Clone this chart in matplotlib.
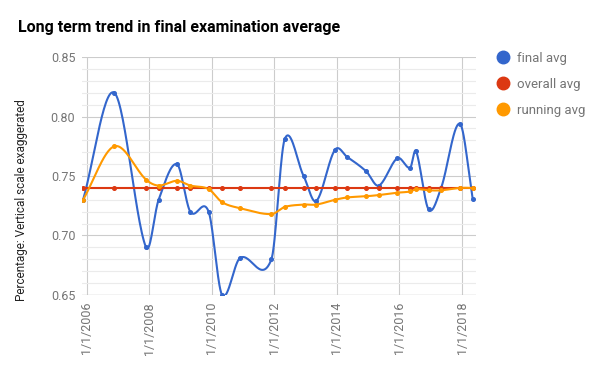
# -*- coding: utf-8 -*-
import numpy as np
import pandas as pd
import matplotlib
matplotlib.use("Agg")
import matplotlib.pyplot as plt
import matplotlib.dates as mdates
from matplotlib.lines import Line2D

plt.rcParams['font.family'] = ['Roboto', 'DejaVu Sans']

# exam sessions
dates = ['2005-11-20', '2006-11-20', '2007-11-25', '2008-04-20', '2008-11-20',
         '2009-04-25', '2009-11-25', '2010-05-01', '2010-11-25', '2011-11-28',
         '2012-05-01', '2012-12-08', '2013-05-05', '2013-12-08', '2014-05-01',
         '2014-12-08', '2015-05-05', '2015-12-08', '2016-05-05', '2016-07-12',
         '2016-12-05', '2017-05-01', '2017-12-05', '2018-05-05']
final_avg = [0.730, 0.820, 0.690, 0.730, 0.760, 0.720, 0.720, 0.650, 0.681, 0.680,
             0.781, 0.750, 0.729, 0.772, 0.766, 0.754, 0.742, 0.765, 0.757, 0.771,
             0.722, 0.740, 0.794, 0.731]
overall_avg = [0.740] * len(dates)
running_avg = [0.730, 0.775, 0.747, 0.742, 0.746, 0.742, 0.739, 0.728, 0.723, 0.718,
               0.724, 0.726, 0.726, 0.730, 0.732, 0.733, 0.734, 0.736, 0.737, 0.739,
               0.738, 0.738, 0.740, 0.740]
series_names = ['final avg', 'overall avg', 'running avg']
colors = ['#3366cc', '#dc3912', '#ff9900']
tick_years = [2006, 2008, 2010, 2012, 2014, 2016, 2018]
tick_labels = ['1/1/%d' % y for y in tick_years]

x = mdates.date2num(pd.to_datetime(dates).to_pydatetime())


def smooth(xs, ys, n=30):
    # cubic hermite with catmull-rom tangents, like google's curveType 'function'
    xs = np.asarray(xs, float)
    ys = np.asarray(ys, float)
    m = np.zeros_like(ys)
    m[1:-1] = (ys[2:] - ys[:-2]) / (xs[2:] - xs[:-2])
    m[0] = (ys[1] - ys[0]) / (xs[1] - xs[0])
    m[-1] = (ys[-1] - ys[-2]) / (xs[-1] - xs[-2])
    outx, outy = [], []
    for i in range(len(xs) - 1):
        h = xs[i + 1] - xs[i]
        t = np.linspace(0, 1, n, endpoint=False)
        h00 = 2 * t**3 - 3 * t**2 + 1
        h10 = t**3 - 2 * t**2 + t
        h01 = -2 * t**3 + 3 * t**2
        h11 = t**3 - t**2
        outx.append(xs[i] + t * h)
        outy.append(h00 * ys[i] + h10 * h * m[i] + h01 * ys[i + 1] + h11 * h * m[i + 1])
    outx.append([xs[-1]])
    outy.append([ys[-1]])
    return np.concatenate(outx), np.concatenate(outy)


fig = plt.figure(figsize=(6, 3.71), dpi=100)
ax = fig.add_axes([0.137, 0.205, 0.656, 0.641])

for vals, c in zip([final_avg, overall_avg, running_avg], colors):
    sx, sy = smooth(x, vals)
    ax.plot(sx, sy, color=c, lw=1.5, solid_capstyle='round', zorder=3)
    ax.plot(x, vals, 'o', color=c, ms=2.6, zorder=4)

ax.set_ylim(0.65, 0.85)
ax.set_xlim(mdates.date2num(pd.Timestamp('2005-11-10')), mdates.date2num(pd.Timestamp('2018-06-10')))
ax.set_yticks(np.arange(0.65, 0.851, 0.05))
ax.set_yticks(np.arange(0.65, 0.851, 0.01), minor=True)
ax.set_yticklabels(['%.2f' % v for v in np.arange(0.65, 0.851, 0.05)])
ax.set_xticks(mdates.date2num(pd.to_datetime(['%d-01-01' % y for y in tick_years]).to_pydatetime()))
ax.set_xticklabels(tick_labels, rotation=90)

ax.grid(which='major', color='#cccccc', lw=0.8)
ax.grid(which='minor', axis='y', color='#ebebeb', lw=0.8)
ax.set_axisbelow(True)
for s in ax.spines.values():
    s.set_visible(False)
ax.axhline(0.65, color='#bbbbbb', lw=0.9, zorder=1)
ax.tick_params(which='both', length=0, labelsize=9, labelcolor='#757575', pad=5)

ax.set_ylabel('Percentage: Vertical scale exaggerated', fontsize=8.5, color='#222222')
ax.yaxis.set_label_coords(-0.137, 0.40)
fig.text(0.03, 0.925, 'Long term trend in final examination average', fontsize=11.5,
         fontweight='bold', color='#000000', va='center')

handles = [Line2D([], [], marker='o', ls='none', color=c, ms=9) for c in colors]
leg = fig.legend(handles, series_names, loc='upper left', bbox_to_anchor=(0.817, 0.875),
                 frameon=False, fontsize=9.5, labelspacing=1.0, handletextpad=0.4,
                 handlelength=1.2, borderaxespad=0)
for t in leg.get_texts():
    t.set_color('#757575')

fig.savefig('out.png', dpi=100)
